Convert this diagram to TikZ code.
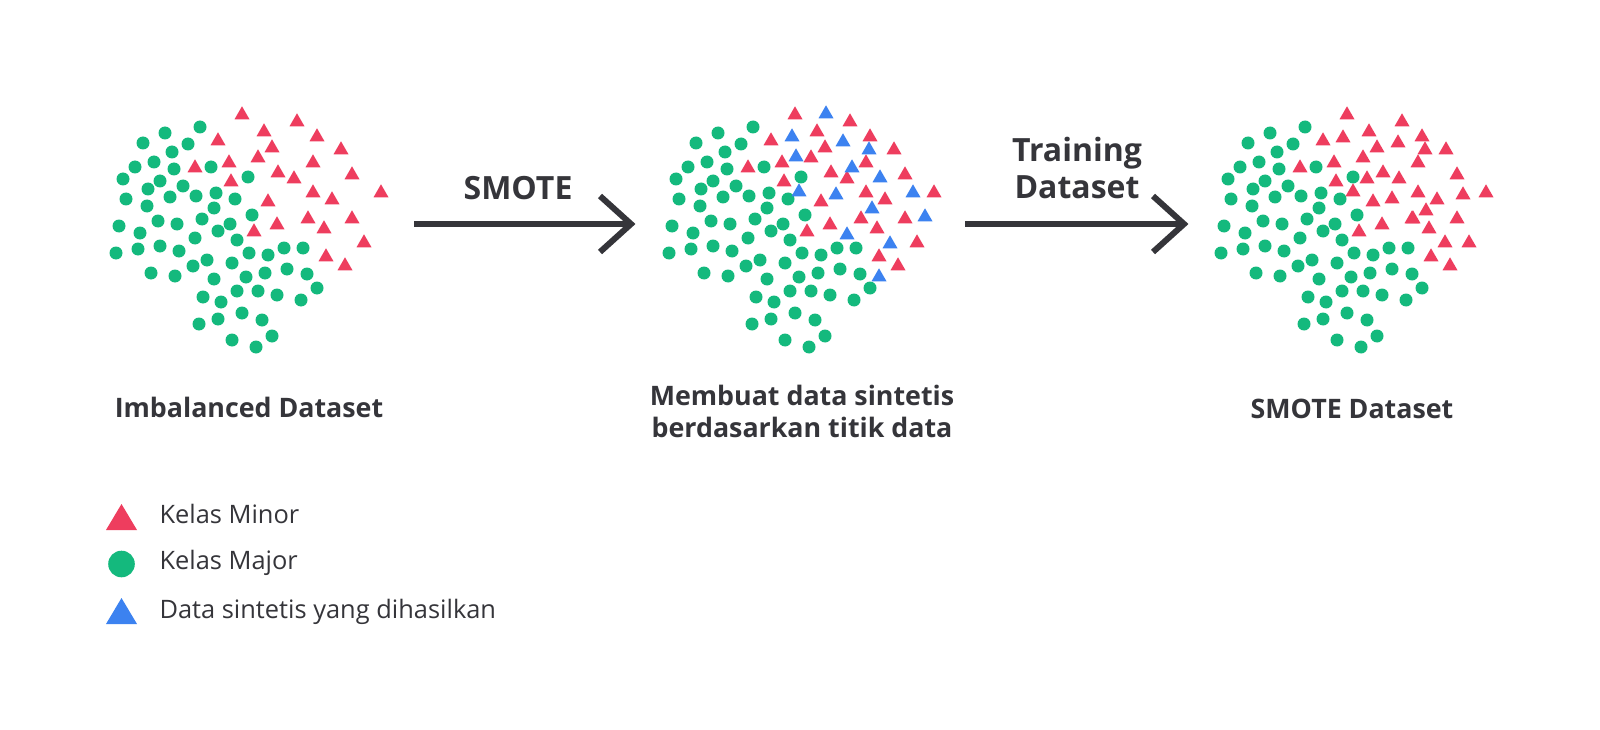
\documentclass[tikz,border=0pt]{standalone}
\usepackage{fontspec}
\setmainfont{Open Sans}
\definecolor{majc}{HTML}{14B97D}
\definecolor{minc}{HTML}{EE3D5E}
\definecolor{sync}{HTML}{3C82F0}
\definecolor{txtc}{HTML}{35353A}
\newcommand\dotlist{200/127,165/133,143/143,188/144,172/152,154/162,135/167,174/169,211/167,123/179,160/181,148/189,183/186,248/177,126/199,170/197,196/196,216/193,235/199,147/206,214/208,252/215,119/226,158/221,177/224,202/219,140/233,218/231,230/224,195/238,237/240,116/253,138/249,160/246,179/251,249/253,284/248,303/248,268/255,207/260,193/266,151/273,175/276,232/263,265/273,287/269,307/274,214/279,246/277,317/288,203/297,237/291,258/291,277/295,301/300,221/302,199/324,218/319,242/313,262/320,272/336,232/340,256/347}
\newcommand\minlist{242/115,297/122,264/132,317/137,218/141,272/148,341/150,258/158,195/168,229/163,313/163,278/173,294/179,352/175,231/182,313/193,332/200,381/193,268/202,308/219,352/219,277/225,324/229,254/232,364/243,326/257,345/266}
\newcommand\synlist{826/114,792/137,843/142,869/150,796/157,852/168,880/178,799/192,836/195,913/193,872/209,925/217,847/235,890/244,879/277}
\newcommand\addlist{1343/138,1398/143,1425/150,1367/179,1353/192,1463/195,1392/199,1426/211,1412/219,1445/243}
\newcommand\mytri[3]{\fill[#1] (#2,#3) ++(0,-8.7) -- ++(7.5,13) -- ++(-15,0) -- cycle;}
\begin{document}
\begin{tikzpicture}[x=1pt,y=-1pt,
  lbl/.style={text=txtc,font=\fontsize{26.8}{32}\bfseries\selectfont,align=center},
  albl/.style={text=txtc,font=\fontsize{32}{37}\bfseries\selectfont,align=center},
  lgd/.style={text=txtc,font=\fontsize{25.4}{30}\selectfont,anchor=west},
  arrowline/.style={draw=txtc,line width=6pt,line join=miter}]
\useasboundingbox (0,0) rectangle (1600,730);
\fill[white] (0,0) rectangle (1600,730);
% clusters
\foreach \dx in {0,553,1105}{
  \foreach \a/\b in \dotlist { \fill[majc] (\a+\dx,\b) circle[radius=6.5pt]; }
  \foreach \a/\b in \minlist { \mytri{minc}{\a+\dx}{\b} }
}
\foreach \a/\b in \synlist { \mytri{sync}{\a}{\b} }
\foreach \a/\b in \addlist { \mytri{minc}{\a}{\b} }
% arrows
\coordinate (a1s) at (414,224);
\coordinate (a1e) at (631,224);
\coordinate (a2s) at (965,224);
\coordinate (a2e) at (1184,224);
\draw[arrowline] (a1s) -- (a1e);
\draw[arrowline] ([shift={(-31,-28)}]a1e) -- (a1e) -- ([shift={(-31,28)}]a1e);
\draw[arrowline] (a2s) -- (a2e);
\draw[arrowline] ([shift={(-31,-28)}]a2e) -- (a2e) -- ([shift={(-31,28)}]a2e);
% labels
\node[albl] (smote) at (518,188) {SMOTE};
\node[albl] (train) at (1077,168) {Training\\Dataset};
\node[lbl] (imb) at (249,407) {Imbalanced Dataset};
\node[lbl] (mem) at (802,411) {Membuat data sintetis\\berdasarkan titik data};
\node[lbl] (sds) at (1352,409) {SMOTE Dataset};
% legend
\fill[minc] (121.5,504) -- (137,530) -- (106,530) -- cycle;
\fill[majc] (121.5,564) circle[radius=13.3pt];
\fill[sync] (121.5,598) -- (137,624) -- (106,624) -- cycle;
\node[lgd] (l1) at (156,514) {Kelas Minor};
\node[lgd] (l2) at (156,563) {Kelas Major};
\node[lgd] (l3) at (156,612) {Data sintetis yang dihasilkan};
\end{tikzpicture}
\end{document}
